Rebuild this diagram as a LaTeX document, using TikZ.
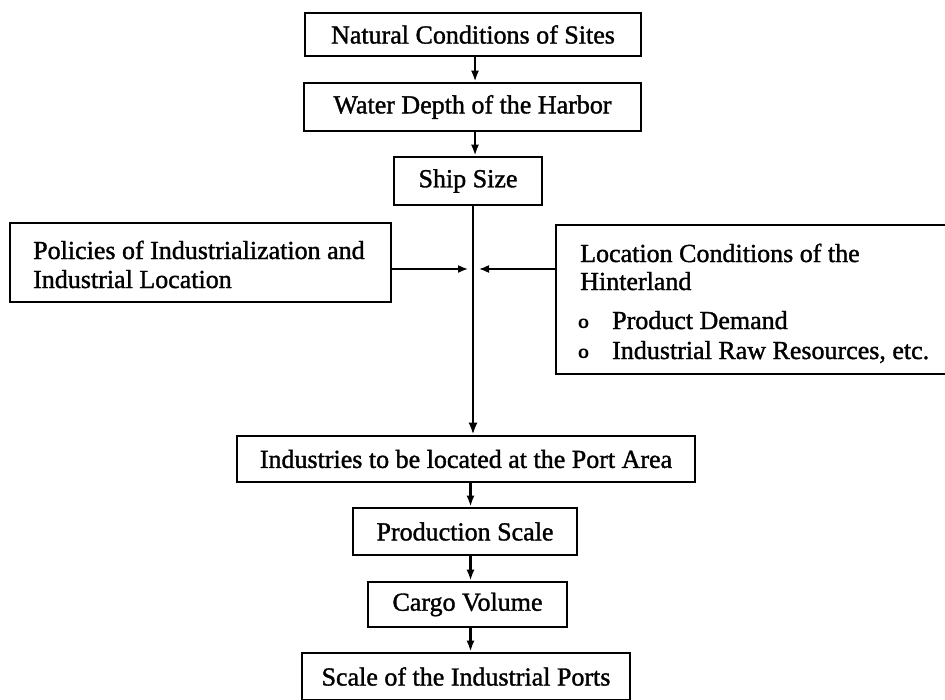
\documentclass[tikz,border=0pt]{standalone}
\usepackage{fontspec}
\setmainfont{Liberation Serif}[AutoFakeBold=1.3]
\usetikzlibrary{arrows.meta}
\begin{document}
\begin{tikzpicture}[x=1pt,y=-1pt,
  box/.style={draw, line width=2.6pt, inner sep=0pt, font=\fontsize{26}{30}\selectfont\bfseries},
  txt/.style={inner sep=0pt, anchor=base west, font=\fontsize{26}{30}\selectfont\bfseries},
  arr/.style={line width=2.2pt, -{Latex[length=11pt,width=8pt]}},
  mainarr/.style={line width=2.8pt, -{Latex[length=12pt,width=9pt]}},
  harr/.style={line width=1.6pt, -{Latex[length=10pt,width=8pt]}}]
\useasboundingbox[fill=white] (0,0) rectangle (945,699);
% boxes
\node[box, minimum width=336pt, minimum height=43pt] (nat) at (473,34.5) {Natural Conditions of Sites};
\node[box, minimum width=337pt, minimum height=48pt] (wat) at (472.5,107) {Water Depth of the Harbor};
\node[box, minimum width=148pt, minimum height=48pt] (ship) at (468,181) {Ship Size};
\node[box, minimum width=381pt, minimum height=79pt] (pol) at (200.5,262.5) {};
\node[box, minimum width=400pt, minimum height=149pt] (loc) at (756,299.5) {};
\node[box, minimum width=458pt, minimum height=46pt] (ind) at (466,459) {Industries to be located at the Port Area};
\node[box, minimum width=224pt, minimum height=47pt] (prod) at (465,531.5) {Production Scale};
\node[box, minimum width=199pt, minimum height=45pt] (cargo) at (467.5,604.5) {Cargo Volume};
\node[box, minimum width=328pt, minimum height=47pt] (scale) at (466,676.5) {Scale of the Industrial Ports};
% texts of the two large boxes
\node[txt] (pol1) at (33,259) {Policies of Industrialization and};
\node[txt] (pol2) at (33,288) {Industrial Location};
\node[txt] (loc1) at (580,262) {Location Conditions of the};
\node[txt] (loc2) at (580,290) {Hinterland};
\node[txt] (b1) at (578,328) {\fontsize{20}{24}\selectfont\sffamily o};
\node[txt] (loc3) at (612,329) {Product Demand};
\node[txt] (b2) at (578,358) {\fontsize{20}{24}\selectfont\sffamily o};
\node[txt] (loc4) at (612,359) {Industrial Raw Resources, etc.};
% connector coordinates
\coordinate (xa) at (475,0);
\coordinate (xm) at (473,0);
\coordinate (xb) at (470.5,0);
\coordinate (jl) at (468,269);
\coordinate (jr) at (479,269);
% connectors
\draw[arr] (nat.south -| xa) -- (wat.north -| xa);
\draw[arr] (wat.south -| xa) -- (ship.north -| xa);
\draw[mainarr] (ship.south -| xm) -- (ind.north -| xm);
\draw[harr] (pol.east |- jl) -- (jl);
\draw[harr] (loc.west |- jr) -- (jr);
\draw[arr] (ind.south -| xb) -- (prod.north -| xb);
\draw[arr] (prod.south -| xb) -- (cargo.north -| xb);
\draw[arr] (cargo.south -| xb) -- (scale.north -| xb);
\end{tikzpicture}
\end{document}
